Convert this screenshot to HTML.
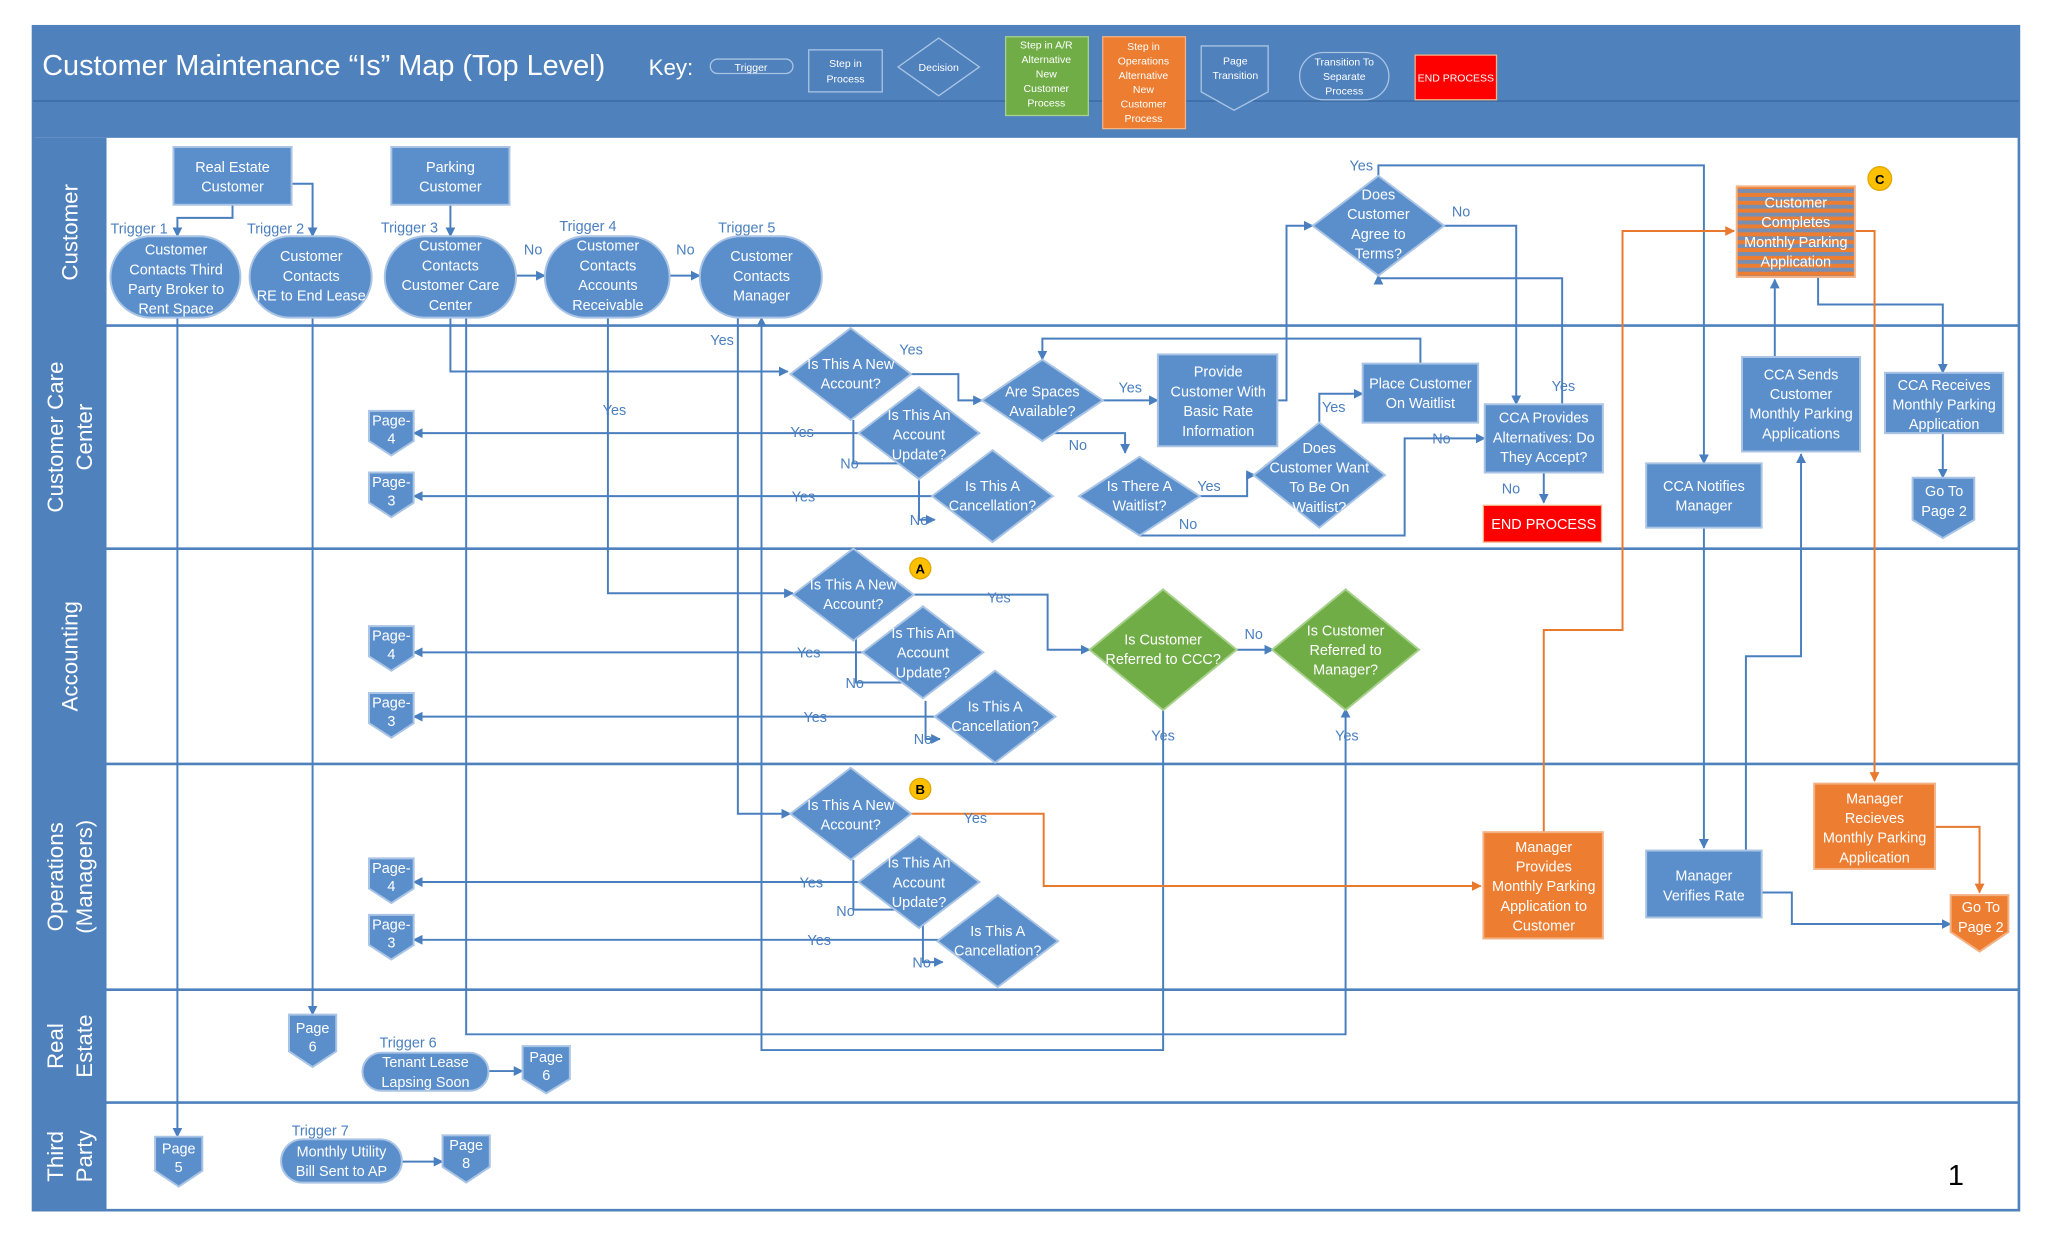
<!DOCTYPE html>
<html><head><meta charset="utf-8"><style>
html,body{margin:0;padding:0;background:#fff;}
svg{display:block;}
text{font-family:"Liberation Sans",sans-serif;}
</style></head><body>
<svg width="2048" height="1243" viewBox="0 0 1560 947" xmlns="http://www.w3.org/2000/svg">
<defs>
<marker id="a" viewBox="0 0 10 10" refX="9" refY="5" markerWidth="5" markerHeight="5" orient="auto"><path d="M0,0L10,5L0,10z" fill="#4a7fbf"/></marker>
<marker id="o" viewBox="0 0 10 10" refX="9" refY="5" markerWidth="5" markerHeight="5" orient="auto"><path d="M0,0L10,5L0,10z" fill="#e8792e"/></marker>
<pattern id="st" width="6" height="6" patternUnits="userSpaceOnUse"><rect width="6" height="6" fill="#ed7d31"/><rect width="6" height="3" fill="#7a8fb0"/></pattern>
</defs>
<rect x="0" y="0" width="1560" height="947" fill="#fff"/>
<rect x="25" y="20" width="1513" height="902" fill="#fff" stroke="#4f81bd" stroke-width="2"/>
<rect x="25" y="20" width="1513" height="85" fill="#4f81bd"/>
<line x1="25" y1="77" x2="1538" y2="77" stroke="#3f6fa8" stroke-width="1.5"/>
<rect x="25" y="105" width="56" height="817" fill="#4f81bd"/>
<g stroke="#4f81bd" stroke-width="2">
<line x1="25" y1="248" x2="1538" y2="248"/><line x1="25" y1="418" x2="1538" y2="418"/><line x1="25" y1="582" x2="1538" y2="582"/><line x1="25" y1="754" x2="1538" y2="754"/><line x1="25" y1="840" x2="1538" y2="840"/>
</g>
<g fill="#fff" font-size="17" text-anchor="middle">
<text transform="translate(59,177) rotate(-90)">Customer</text>
<text transform="translate(48,333) rotate(-90)">Customer Care</text>
<text transform="translate(70,333) rotate(-90)">Center</text>
<text transform="translate(59,500) rotate(-90)">Accounting</text>
<text transform="translate(48,668) rotate(-90)">Operations</text>
<text transform="translate(70,668) rotate(-90)">(Managers)</text>
<text transform="translate(48,797) rotate(-90)">Real</text>
<text transform="translate(70,797) rotate(-90)">Estate</text>
<text transform="translate(48,881) rotate(-90)">Third</text>
<text transform="translate(70,881) rotate(-90)">Party</text>
</g>
<text x="32" y="57" fill="#fff" font-size="22">Customer Maintenance “Is” Map (Top Level)</text>
<text x="494" y="57" fill="#fff" font-size="17">Key:</text>
<g font-size="8" fill="#fff" text-anchor="middle">
<rect x="541" y="45" width="63" height="11" rx="5.5" fill="#4f81bd" stroke="#a9c4e4"/><text x="572" y="54">Trigger</text>
<rect x="616" y="38" width="56" height="32" fill="#4f81bd" stroke="#a9c4e4"/><text x="644" y="51">Step in</text><text x="644" y="63">Process</text>
<path d="M715,29L746,51L715,73L684,51z" fill="#4f81bd" stroke="#a9c4e4"/><text x="715" y="54">Decision</text>
<rect x="766" y="28" width="63" height="60" fill="#70ad47" stroke="#a9d18e"/><text x="797" y="37">Step in A/R</text><text x="797" y="48">Alternative</text><text x="797" y="59">New</text><text x="797" y="70">Customer</text><text x="797" y="81">Process</text>
<rect x="840" y="28" width="63" height="70" fill="#ed7d31" stroke="#f4b183"/><text x="871" y="38">Step in</text><text x="871" y="49">Operations</text><text x="871" y="60">Alternative</text><text x="871" y="71">New</text><text x="871" y="82">Customer</text><text x="871" y="93">Process</text>
<path d="M915,35H966V70L940,84L915,70z" fill="#4f81bd" stroke="#a9c4e4"/><text x="941" y="49">Page</text><text x="941" y="60">Transition</text>
<rect x="990" y="40" width="68" height="36" rx="18" fill="#4f81bd" stroke="#a9c4e4"/><text x="1024" y="50">Transition To</text><text x="1024" y="61">Separate</text><text x="1024" y="72">Process</text>
<rect x="1078" y="42" width="62" height="34" fill="#ff0000" stroke="#f4b183"/><text x="1109" y="62">END PROCESS</text>
</g>
<g fill="none" stroke="#4a7fbf" stroke-width="1.5" marker-end="url(#a)">
<path d="M177,156V166H135V180"/>
<path d="M222,140H238V180"/>
<path d="M343,156V180"/>
<path d="M393,210H415"/>
<path d="M510,210H533"/>
<path d="M135,242V866"/>
<path d="M238,242V773"/>
<path d="M343,242V283H600"/>
<path d="M463,242V452H604"/>
<path d="M562,242V620H602"/>
<path d="M694,285H730V305H748"/>
<path d="M840,305H882"/>
<path d="M973,305H980V172H1000"/>
<path d="M794,336V330H857V345"/>
<path d="M914,378H950V362H956"/>
<path d="M1005,322V300H1038"/>
<path d="M868,408H1070V334H1131"/>
<path d="M1082,277V258H794V274"/>
<path d="M1100,172H1155V308"/>
<path d="M1050,134V126H1298V353"/>
<path d="M1190,308V212H1050V210"/>
<path d="M1176,360V383"/>
<path d="M1298,402V646"/>
<path d="M1330,648V500H1372V346"/>
<path d="M1352,272V213"/>
<path d="M1385,211V232H1480V284"/>
<path d="M1480,330V364"/>
<path d="M1342,680H1365V704H1486"/>
<path d="M696,453H798V495H830"/>
<path d="M942,495H970"/>
<path d="M355,242V788H1025V540"/>
<path d="M886,540V800H580V242"/>
<path d="M660,330H315"/><path d="M715,378H315"/>
<path d="M665,497H315"/><path d="M718,546H315"/>
<path d="M660,672H315"/><path d="M720,716H315"/>
<path d="M650,320V353H700V347"/>
<path d="M700,366V396H712"/>
<path d="M652,487V520H702V514"/>
<path d="M705,534V563H716"/>
<path d="M650,655V693H700V688"/>
<path d="M703,705V733H718"/>
<path d="M372,816H398"/>
<path d="M306,885H337"/>
</g>
<g fill="none" stroke="#e8792e" stroke-width="1.5" marker-end="url(#o)">
<path d="M694,620H795V675H1128"/>
<path d="M1176,634V480H1236V176H1321"/>
<path d="M1413,176H1428V595"/>
<path d="M1474,630H1508V680"/>
</g>
<g font-size="11" fill="#4a7fbf">
<text x="399" y="194">No</text><text x="515" y="194">No</text>
<text x="541" y="263">Yes</text><text x="685" y="270">Yes</text><text x="852" y="299">Yes</text>
<text x="814" y="343">No</text><text x="912" y="374">Yes</text><text x="898" y="403">No</text>
<text x="1007" y="314">Yes</text><text x="1091" y="338">No</text><text x="1182" y="298">Yes</text>
<text x="1144" y="376">No</text><text x="1028" y="130">Yes</text><text x="1106" y="165">No</text>
<text x="459" y="316">Yes</text><text x="602" y="333">Yes</text><text x="640" y="357">No</text>
<text x="603" y="382">Yes</text><text x="693" y="400">No</text>
<text x="752" y="459">Yes</text><text x="607" y="501">Yes</text><text x="644" y="524">No</text>
<text x="612" y="550">Yes</text><text x="696" y="567">No</text>
<text x="948" y="487">No</text><text x="877" y="564">Yes</text><text x="1017" y="564">Yes</text>
<text x="734" y="627">Yes</text><text x="609" y="676">Yes</text><text x="637" y="698">No</text>
<text x="615" y="720">Yes</text><text x="695" y="737">No</text>
<text x="84" y="178">Trigger 1</text><text x="188" y="178">Trigger 2</text><text x="290" y="177">Trigger 3</text>
<text x="426" y="176">Trigger 4</text><text x="547" y="177">Trigger 5</text>
<text x="289" y="798">Trigger 6</text><text x="222" y="865">Trigger 7</text>
</g>
<g fill="#5b8fcc" stroke="#a9c4e4" stroke-width="1.5">
<rect x="132" y="112" width="90" height="44"/>
<rect x="298" y="112" width="90" height="44"/>
<rect x="84" y="180" width="99" height="62" rx="31"/>
<rect x="190" y="180" width="93" height="62" rx="31"/>
<rect x="293" y="180" width="100" height="62" rx="31"/>
<rect x="415" y="180" width="95" height="62" rx="31"/>
<rect x="533" y="180" width="93" height="62" rx="31"/>
<path d="M1050,134L1100,172L1050,210L1000,172z"/>
<path d="M648,250L694,285L648,320L602,285z"/>
<path d="M700,295L746,330L700,365L654,330z"/>
<path d="M756,343L802,378L756,413L710,378z"/>
<path d="M794,274L840,305L794,336L748,305z"/>
<rect x="882" y="270" width="91" height="70"/>
<path d="M868,348L914,378L868,408L822,378z"/>
<path d="M1005,322L1055,362L1005,402L955,362z"/>
<rect x="1038" y="277" width="88" height="45"/>
<rect x="1131" y="308" width="90" height="52"/>
<rect x="1254" y="353" width="88" height="49"/>
<rect x="1327" y="272" width="90" height="72"/>
<rect x="1436" y="284" width="90" height="46"/>
<path d="M650,418L696,453L650,488L604,453z"/>
<path d="M703,462L749,497L703,532L657,497z"/>
<path d="M758,511L804,546L758,581L712,546z"/>
<path d="M648,585L694,620L648,655L602,620z"/>
<path d="M700,637L746,672L700,707L654,672z"/>
<path d="M760,682L806,717L760,752L714,717z"/>
<rect x="1254" y="648" width="88" height="51"/>
<rect x="276" y="802" width="96" height="29" rx="14.5"/>
<rect x="214" y="868" width="92" height="33" rx="16.5"/>
<path d="M1457,364H1504V396L1480,410L1457,396z"/>
<path d="M281,313H315V336L298,347L281,336z"/><path d="M281,360H315V383L298,394L281,383z"/>
<path d="M281,477H315V500L298,511L281,500z"/><path d="M281,528H315V551L298,562L281,551z"/>
<path d="M281,654H315V677L298,688L281,677z"/><path d="M281,697H315V720L298,731L281,720z"/>
<path d="M220,773H256V801L238,813L220,801z"/>
<path d="M398,797H434V822L416,833L398,822z"/>
<path d="M118,866H154V892L136,904L118,892z"/>
<path d="M337,865H373V889L355,901L337,889z"/>
</g>
<g fill="#70ad47" stroke="#a9d18e" stroke-width="1.5">
<path d="M886,449L942,495L886,541L830,495z"/>
<path d="M1025,449L1081,495L1025,541L969,495z"/>
</g>
<g fill="#ed7d31" stroke="#f4b183" stroke-width="1.5">
<rect x="1130" y="634" width="91" height="81"/>
<rect x="1382" y="597" width="92" height="65"/>
<path d="M1486,682H1530V710L1508,725L1486,710z"/>
</g>
<rect x="1323" y="142" width="90" height="69" fill="url(#st)" stroke="#f4b183" stroke-width="1.5"/>
<rect x="1130" y="385" width="90" height="28" fill="#ff0000" stroke="#f4b183"/>
<g fill="#ffc000" stroke="#e0a800"><circle cx="1432" cy="136" r="9"/><circle cx="701" cy="433" r="8"/><circle cx="701" cy="601" r="8"/></g>
<g font-size="10" font-weight="bold" text-anchor="middle" fill="#000"><text x="1432" y="140">C</text><text x="701" y="437">A</text><text x="701" y="605">B</text></g>
<g fill="#fff" font-size="11" text-anchor="middle">
<text x="177" y="131">Real Estate</text><text x="177" y="146">Customer</text>
<text x="343" y="131">Parking</text><text x="343" y="146">Customer</text>
<text x="134" y="194">Customer</text><text x="134" y="209">Contacts Third</text><text x="134" y="224">Party Broker to</text><text x="134" y="239">Rent Space</text>
<text x="237" y="199">Customer</text><text x="237" y="214">Contacts</text><text x="237" y="229">RE to End Lease</text>
<text x="343" y="191">Customer</text><text x="343" y="206">Contacts</text><text x="343" y="221">Customer Care</text><text x="343" y="236">Center</text>
<text x="463" y="191">Customer</text><text x="463" y="206">Contacts</text><text x="463" y="221">Accounts</text><text x="463" y="236">Receivable</text>
<text x="580" y="199">Customer</text><text x="580" y="214">Contacts</text><text x="580" y="229">Manager</text>
<text x="1050" y="152">Does</text><text x="1050" y="167">Customer</text><text x="1050" y="182">Agree to</text><text x="1050" y="197">Terms?</text>
<text x="1368" y="158">Customer</text><text x="1368" y="173">Completes</text><text x="1368" y="188">Monthly Parking</text><text x="1368" y="203">Application</text>
<text x="648" y="281">Is This A New</text><text x="648" y="296">Account?</text>
<text x="700" y="320">Is This An</text><text x="700" y="335">Account</text><text x="700" y="350">Update?</text>
<text x="756" y="374">Is This A</text><text x="756" y="389">Cancellation?</text>
<text x="794" y="302">Are Spaces</text><text x="794" y="317">Available?</text>
<text x="928" y="287">Provide</text><text x="928" y="302">Customer With</text><text x="928" y="317">Basic Rate</text><text x="928" y="332">Information</text>
<text x="868" y="374">Is There A</text><text x="868" y="389">Waitlist?</text>
<text x="1005" y="345">Does</text><text x="1005" y="360">Customer Want</text><text x="1005" y="375">To Be On</text><text x="1005" y="390">Waitlist?</text>
<text x="1082" y="296">Place Customer</text><text x="1082" y="311">On Waitlist</text>
<text x="1176" y="322">CCA Provides</text><text x="1176" y="337">Alternatives: Do</text><text x="1176" y="352">They Accept?</text>
<text x="1176" y="403">END PROCESS</text>
<text x="1298" y="374">CCA Notifies</text><text x="1298" y="389">Manager</text>
<text x="1372" y="289">CCA Sends</text><text x="1372" y="304">Customer</text><text x="1372" y="319">Monthly Parking</text><text x="1372" y="334">Applications</text>
<text x="1481" y="297">CCA Receives</text><text x="1481" y="312">Monthly Parking</text><text x="1481" y="327">Application</text>
<text x="1481" y="378">Go To</text><text x="1481" y="393">Page 2</text>
<text x="650" y="449">Is This A New</text><text x="650" y="464">Account?</text>
<text x="703" y="486">Is This An</text><text x="703" y="501">Account</text><text x="703" y="516">Update?</text>
<text x="758" y="542">Is This A</text><text x="758" y="557">Cancellation?</text>
<text x="886" y="491">Is Customer</text><text x="886" y="506">Referred to CCC?</text>
<text x="1025" y="484">Is Customer</text><text x="1025" y="499">Referred to</text><text x="1025" y="514">Manager?</text>
<text x="648" y="617">Is This A New</text><text x="648" y="632">Account?</text>
<text x="700" y="661">Is This An</text><text x="700" y="676">Account</text><text x="700" y="691">Update?</text>
<text x="760" y="713">Is This A</text><text x="760" y="728">Cancellation?</text>
<text x="1176" y="649">Manager</text><text x="1176" y="664">Provides</text><text x="1176" y="679">Monthly Parking</text><text x="1176" y="694">Application to</text><text x="1176" y="709">Customer</text>
<text x="1298" y="671">Manager</text><text x="1298" y="686">Verifies Rate</text>
<text x="1428" y="612">Manager</text><text x="1428" y="627">Recieves</text><text x="1428" y="642">Monthly Parking</text><text x="1428" y="657">Application</text>
<text x="1509" y="695">Go To</text><text x="1509" y="710">Page 2</text>
<text x="324" y="813">Tenant Lease</text><text x="324" y="828">Lapsing Soon</text>
<text x="260" y="881">Monthly Utility</text><text x="260" y="896">Bill Sent to AP</text>
<text x="298" y="324">Page-</text><text x="298" y="338">4</text>
<text x="298" y="371">Page-</text><text x="298" y="385">3</text>
<text x="298" y="488">Page-</text><text x="298" y="502">4</text>
<text x="298" y="539">Page-</text><text x="298" y="553">3</text>
<text x="298" y="665">Page-</text><text x="298" y="679">4</text>
<text x="298" y="708">Page-</text><text x="298" y="722">3</text>
<text x="238" y="787">Page</text><text x="238" y="801">6</text>
<text x="416" y="809">Page</text><text x="416" y="823">6</text>
<text x="136" y="879">Page</text><text x="136" y="893">5</text>
<text x="355" y="876">Page</text><text x="355" y="890">8</text>
</g>
<text x="1490" y="903" font-size="22" text-anchor="middle" fill="#000">1</text>
</svg>
</body></html>
